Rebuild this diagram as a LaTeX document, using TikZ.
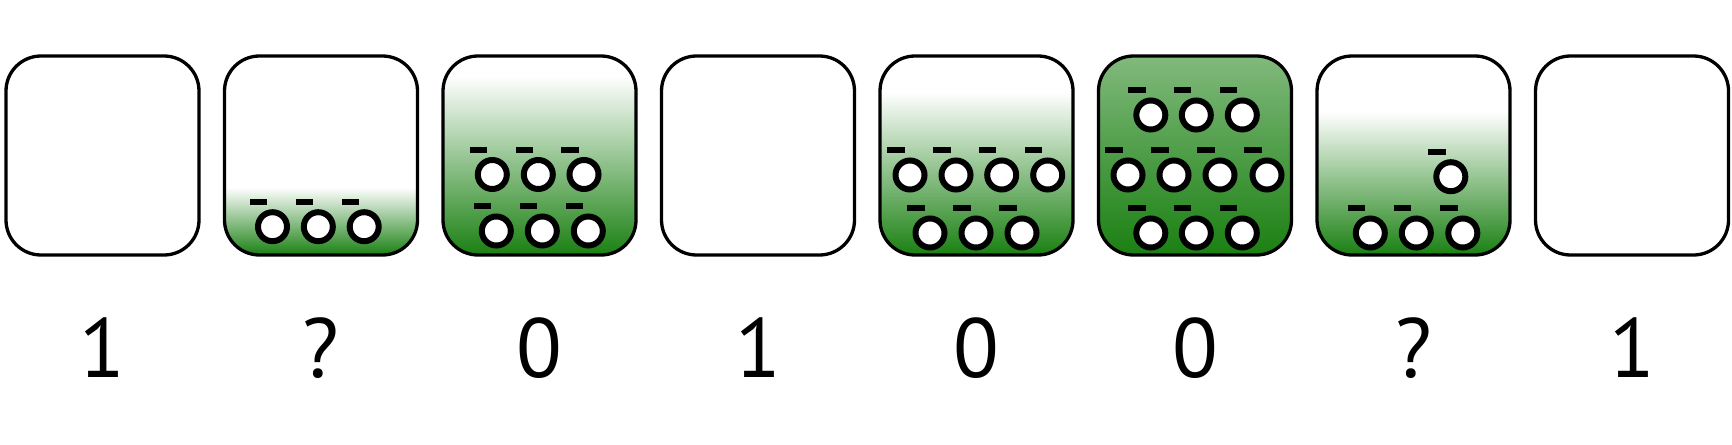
\documentclass[tikz,border=0pt]{standalone}
\usepackage{fontspec}
\setmainfont{PT Sans}
\definecolor{fillgreen}{RGB}{26,128,18}
% vertical fills: 25bp is the bottom of the box, 75bp its top
\pgfdeclareverticalshading{lowfill}{100bp}{color(0bp)=(fillgreen); color(25bp)=(fillgreen); color(42bp)=(white); color(100bp)=(white)}
\pgfdeclareverticalshading{midfill}{100bp}{color(0bp)=(fillgreen); color(25bp)=(fillgreen); color(70bp)=(white); color(100bp)=(white)}
\pgfdeclareverticalshading{highfill}{100bp}{color(0bp)=(fillgreen); color(25bp)=(fillgreen); color(66bp)=(white); color(100bp)=(white)}
\pgfdeclareverticalshading{topfill}{100bp}{color(0bp)=(fillgreen); color(25bp)=(fillgreen); color(75bp)=(fillgreen!55!white); color(100bp)=(fillgreen!55!white)}
\pgfdeclareverticalshading{lonefill}{100bp}{color(0bp)=(fillgreen); color(25bp)=(fillgreen); color(61bp)=(white); color(100bp)=(white)}
\tikzset{
  cell/.style={draw, line width=1.65pt, rounded corners=17.5pt, minimum width=96.5pt, minimum height=99.5pt, inner sep=0pt},
  electron/.style={circle, draw, fill=white, line width=3pt, minimum size=14.5pt, inner sep=0pt},
  charge/.style={fill=black, minimum width=8.7pt, minimum height=3pt, inner sep=0pt, xshift=-7pt, yshift=12.3pt},
  digit/.style={anchor=base, inner sep=0pt, font=\fontsize{42}{42}\selectfont}
}
\newcommand{\electron}[2]{%
  \node[electron] (#1) at (#2) {};
  \node[charge] (#1m) at (#1) {};}
\begin{document}
\begin{tikzpicture}[x=0.5pt, y=-0.5pt]
\useasboundingbox (0,0) rectangle (1732,444);
% cells
\node[cell] (box1) at (102.5,155.5) {};
\node[cell, shading=lowfill] (box2) at (321,155.5) {};
\node[cell, shading=midfill] (box3) at (539.5,155.5) {};
\node[cell] (box4) at (758,155.5) {};
\node[cell, shading=highfill] (box5) at (976.5,155.5) {};
\node[cell, shading=topfill] (box6) at (1195,155.5) {};
\node[cell, shading=lonefill] (box7) at (1413.5,155.5) {};
\node[cell] (box8) at (1632,155.5) {};
% electrons
\foreach \x [count=\i] in {272.5,318.3,364.2} \electron{b\i}{\x,226.7};
\foreach \x [count=\i] in {492.3,538.3,584} \electron{c\i}{\x,174.5};
\foreach \x [count=\i] in {496.3,542.3,588.3} \electron{cc\i}{\x,231};
\foreach \x [count=\i] in {910,956,1001.7,1047.7} \electron{e\i}{\x,175};
\foreach \x [count=\i] in {930,976,1022} \electron{ee\i}{\x,233};
\foreach \x [count=\i] in {1150.8,1196.3,1242.3} \electron{f\i}{\x,115};
\foreach \x [count=\i] in {1128,1174,1220,1267} \electron{ff\i}{\x,175};
\foreach \x [count=\i] in {1150.8,1196.3,1242.3} \electron{fff\i}{\x,233};
\foreach \x [count=\i] in {1370.3,1416.3,1462.8} \electron{g\i}{\x,233};
\electron{g4}{1450.8,176.7}
% read-out
\foreach \t [count=\i] in {1,?,0,1,0,0,?,1}
  \node[digit] (d\i) at (102.5+218.5*\i-218.5,377) {\t};
\end{tikzpicture}
\end{document}
